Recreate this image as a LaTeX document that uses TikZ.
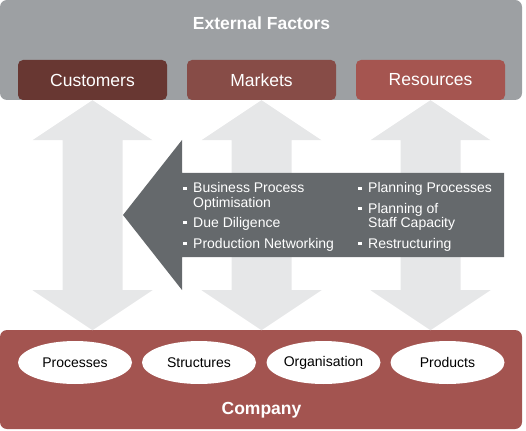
\documentclass[tikz,border=0pt]{standalone}
\usepackage{fontspec}
\setmainfont{Liberation Sans}
\usepackage{tikz}
\usetikzlibrary{shapes.geometric}
\definecolor{extgray}{RGB}{157,160,163}
\definecolor{custred}{RGB}{104,55,50}
\definecolor{markred}{RGB}{135,76,71}
\definecolor{resred}{RGB}{165,85,80}
\definecolor{compred}{RGB}{163,84,80}
\definecolor{litegray}{RGB}{230,231,232}
\definecolor{arrgray}{RGB}{101,105,108}
\newcommand{\bul}{\rule[3.5pt]{3.5pt}{3pt}}
\tikzstyle{ext_box} = [rectangle, rounded corners=7pt, fill=extgray, inner sep=0pt, minimum width=522pt, minimum height=100pt]
\tikzstyle{fac_box} = [rectangle, rounded corners=5pt, text=white, font=\fontsize{17.5}{20}\selectfont, inner sep=0pt, minimum width=149pt, minimum height=40pt]
\tikzstyle{head_txt} = [text=white, font=\fontsize{17.5}{20}\selectfont\bfseries, inner sep=0pt, anchor=base]
\tikzstyle{comp_el} = [ellipse, fill=white, text=black, font=\fontsize{14}{16}\selectfont, inner sep=0pt, minimum width=114pt, minimum height=43pt]
\tikzstyle{lite_arr} = [fill=litegray]
\tikzstyle{dark_arr} = [fill=arrgray]
\tikzstyle{list_txt} = [text=white, font=\fontsize{14}{14}\selectfont, inner sep=0pt, anchor=base west]

\begin{document}
\begin{tikzpicture}[x=1pt, y=-1pt]
\useasboundingbox (0,0) rectangle (526,430);
% external factors
\node [ext_box] (ext) at (261,50) {};
\node [head_txt] (ext_t) at (261.5,30) {External Factors};
\node [fac_box, fill=custred] (cust) at (92.5,80) {Customers};
\node [fac_box, fill=markred] (mark) at (261.5,80) {Markets};
\node [fac_box, fill=resred] (res) at (430.5,80) {Resources};
% company
\node [ext_box, fill=compred, minimum height=99pt] (comp) at (261,379.5) {};
\node [comp_el] (proc) at (75,362.5) {Processes};
\node [comp_el] (struc) at (199,362.5) {Structures};
\node [comp_el] (orga) at (323.5,362.5) {Organisation};
\node [comp_el] (prod) at (447.5,362.5) {Products};
\node [head_txt] (comp_t) at (261.5,414) {Company};
% exchange arrows
\foreach \f in {cust,mark,res}
    \fill [lite_arr, shift={(\f.south)}] (0,0) -- (60,40) -- (30,40) -- (30,190)
        -- (60,190) -- (0,230) -- (-60,190) -- (-30,190) -- (-30,40) -- (-60,40) -- cycle;
% consulting
\fill [dark_arr] (123,215) -- (182,140) -- (182,173) -- (504,173) -- (504,257)
    -- (182,257) -- (182,290) -- cycle;
\node [list_txt] (left_list) at (183,193) {\begin{tabular}[t]{@{}l@{\hspace{6.5pt}}l@{}}
    \bul & Business Process\\
         & Optimisation\\[6pt]
    \bul & Due Diligence\\[6pt]
    \bul & Production Networking
    \end{tabular}};
\node [list_txt] (right_list) at (358,193) {\begin{tabular}[t]{@{}l@{\hspace{6.5pt}}l@{}}
    \bul & Planning Processes\\[6pt]
    \bul & Planning of\\
         & Staff Capacity\\[6pt]
    \bul & Restructuring
    \end{tabular}};
\end{tikzpicture}
\end{document}
